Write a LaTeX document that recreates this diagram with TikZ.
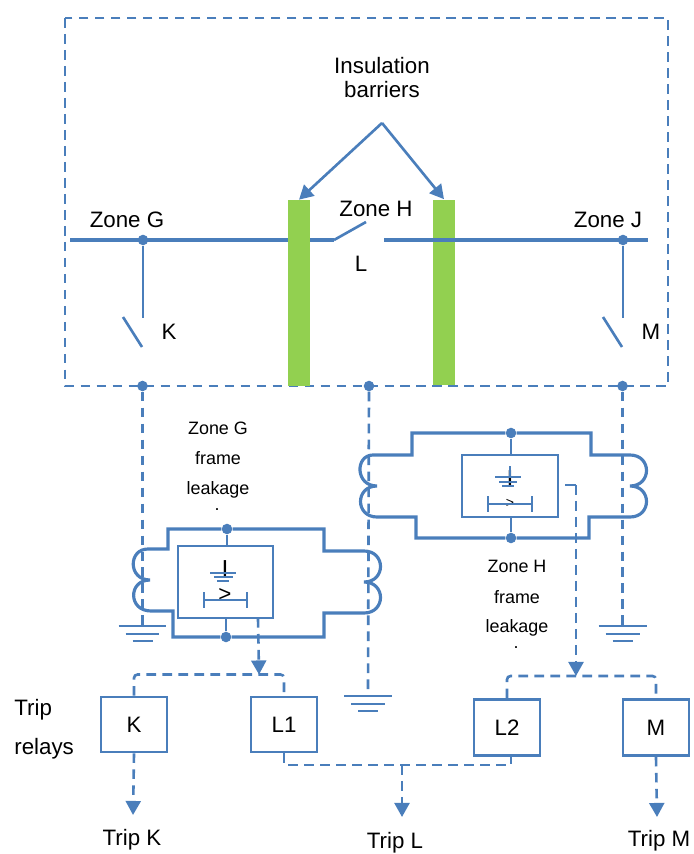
\documentclass[tikz,border=0pt]{standalone}
\usepackage{fontspec}
\setmainfont{Liberation Sans}
\usepackage{xcolor}
\usepackage{tikz}
\usetikzlibrary{arrows.meta}
\definecolor{wireblue}{HTML}{4A7EBB}
\definecolor{barriergreen}{HTML}{92D050}
\tikzset{
  wire/.style={draw=wireblue, line width=1.8pt},
  thinwire/.style={draw=wireblue, line width=1.5pt},
  dashwire/.style={draw=wireblue, line width=1.5pt, dash pattern=on 5.5pt off 3.6pt},
  tipped/.style={-{Triangle[length=8pt,width=8.5pt,fill=wireblue]}},
  dot/.style={circle, fill=wireblue, inner sep=0pt, minimum size=6pt},
  barrier/.style={fill=barriergreen, inner sep=0pt, minimum width=0.44cm, minimum height=3.72cm},
  relay/.style={draw=wireblue, line width=1.5pt, inner sep=0pt, minimum width=1.32cm, minimum height=1.1cm, font=\fontsize{12.7}{15}\selectfont},
  elem/.style={draw=wireblue, line width=1.5pt, inner sep=0pt},
  label/.style={inner sep=0pt, font=\fontsize{12.7}{15}\selectfont},
  small/.style={inner sep=0pt, font=\fontsize{10.2}{12}\selectfont}
}
\begin{document}
\begin{tikzpicture}[x=0.02cm, y=-0.02cm]
\useasboundingbox (0,0) rectangle (693,854);

% Zone boundary
\coordinate (Zone-NW) at (65,18);
\coordinate (Zone-SE) at (668,386);
\draw[dashwire] (Zone-NW) rectangle (Zone-SE);

% Bus left of the first barrier
\coordinate (Bus-W) at (70,240);
\coordinate (Bus-C) at (334,240);
\coordinate (Blade-L) at (366,222);
\coordinate (Bus-D) at (384,240);
\coordinate (Bus-E) at (648,240);
\draw[wire] (Bus-W) -- (Bus-C);
\draw[thinwire] (Bus-C) -- (Blade-L);

% Barriers
\node[barrier] (Barrier-1) at (299,293) {};
\node[barrier] (Barrier-2) at (444,292.5) {};
\draw[wire] (Bus-D) -- (Bus-E);

% Insulation label and arrows
\node[label] (Ins-1) at (382,66) {Insulation};
\node[label] (Ins-2) at (382,90) {barriers};
\coordinate (Apex) at (382,123);
\draw[thinwire, tipped] (Apex) -- (Barrier-1.north);
\draw[thinwire, tipped] (Apex) -- (Barrier-2.north);

% Zone labels
\node[label] (Zone-G) at (127,220) {Zone G};
\node[label] (Zone-H) at (376,209) {Zone H};
\node[label] (Zone-J) at (608,220) {Zone J};
\node[label] (Bkr-L) at (361,264) {L};
\node[label] (Bkr-K) at (169,332) {K};
\node[label] (Bkr-M) at (651,332) {M};

% Bus dots, breakers and boundary dots
\foreach \name/\x in {K/143, M/623}
{
  \node[dot] (Tap-\name) at (\x,240) {};
  \node[dot] (Cross-\name) at (\x-0.5,386) {};
  \coordinate (Open-\name) at (\x,318);
  \coordinate (Hinge-\name) at (\x-1,347);
  \coordinate (Blade-\name) at (\x-20,317);
  \coordinate (Earth-\name) at (\x-0.5,626);
  \draw[thinwire] (Tap-\name) -- (Open-\name);
  \draw[thinwire] (Blade-\name) -- (Hinge-\name);
  \draw[dashwire] (Cross-\name) -- (Earth-\name);
}
\node[dot] (Cross-L) at (369,386) {};
\coordinate (Earth-L) at (368,696);
\draw[dashwire] (Cross-L) -- (Earth-L);

% Earth symbols
\foreach \name in {K,M,L}
{
  \draw[thinwire] ([xshift=-0.48cm]Earth-\name) -- ([xshift=0.48cm]Earth-\name);
  \draw[thinwire] ([xshift=-0.34cm, yshift=-0.16cm]Earth-\name) -- ([xshift=0.34cm, yshift=-0.16cm]Earth-\name);
  \draw[thinwire] ([xshift=-0.2cm, yshift=-0.3cm]Earth-\name) -- ([xshift=0.2cm, yshift=-0.3cm]Earth-\name);
}

% Zone G frame leakage
\node[small] (LeakG-1) at (218,428) {Zone G};
\node[small] (LeakG-2) at (218,458) {frame};
\node[small] (LeakG-3) at (218,490) {leakage};
\node[small] (LeakG-4) at (217,510) {.};

\node[elem, minimum width=1.9cm, minimum height=1.44cm] (Prot-G) at (225.5,582) {};
\node[dot] (Top-G) at (227,529) {};
\node[dot] (Bot-G) at (226,637) {};
\draw[thinwire] (Top-G) -- (Top-G |- Prot-G.north);
\draw[thinwire] (Bot-G) -- (Bot-G |- Prot-G.south);

% Zone G CT secondary
\draw[wire] (148,549) -- (168,549) -- (168,529) -- (Top-G) -- (324,529) -- (324,551) -- (364,551)
  .. controls (386,551) and (386,582) .. (364,582)
  .. controls (386,582) and (386,613) .. (364,613)
  -- (324,613) -- (324,637) -- (Bot-G) -- (173,637) -- (173,611) -- (151,611)
  .. controls (128,611) and (128,580) .. (150,580)
  .. controls (128,580) and (128,549) .. (148,549);

% Zone G relay symbols
\node[label, font=\fontsize{14}{16}\selectfont] (SymI-G) at (225,569) {I};
\draw[thinwire] (210,573) -- (236,573);
\draw[thinwire] (214,577) -- (233,577);
\draw[thinwire] (217,581) -- (229,581);
\node[label] (SymGt-G) at (225,595) {>};
\draw[thinwire] (204,592) -- (204,608);
\draw[thinwire] (204,600) -- (247,600);
\draw[thinwire] (247,592) -- (247,608);

% Zone H frame leakage
\node[small] (LeakH-1) at (517,566) {Zone H};
\node[small] (LeakH-2) at (517,597) {frame};
\node[small] (LeakH-3) at (517,628) {leakage};
\node[small] (LeakH-4) at (516,648) {.};

\node[elem, minimum width=1.92cm, minimum height=1.24cm] (Prot-H) at (510,486) {};
\node[dot] (Top-H) at (511,433) {};
\node[dot] (Bot-H) at (511,538) {};
\draw[thinwire] (Top-H) -- (Top-H |- Prot-H.north);
\draw[thinwire] (Bot-H) -- (Bot-H |- Prot-H.south);

% Zone H CT secondary
\draw[wire] (373,455) -- (412,455) -- (412,433) -- (Top-H) -- (591,433) -- (591,455) -- (630,455)
  .. controls (652,455) and (652,486) .. (630,486)
  .. controls (652,486) and (652,517) .. (630,517)
  -- (589,517) -- (589,538) -- (Bot-H) -- (416,538) -- (416,517) -- (377,517)
  .. controls (355,517) and (355,486) .. (377,486)
  .. controls (355,486) and (355,455) .. (373,455);

% Zone H relay symbols
\node[label, font=\fontsize{14}{16}\selectfont] (SymI-H) at (510,479) {I};
\draw[thinwire] (510,466) -- (510,477);
\draw[thinwire] (495,477) -- (521,477);
\draw[thinwire] (499,482) -- (517,482);
\draw[thinwire] (502,486) -- (514,486);
\node[label, font=\fontsize{8}{9}\selectfont] (SymGt-H) at (510,503.5) {>};
\draw[thinwire] (488,496) -- (488,512);
\draw[thinwire] (488,504) -- (532,504);
\draw[thinwire] (532,496) -- (532,512);

% Relays
\node[relay] (Relay-K) at (134,724.5) {K};
\node[relay] (Relay-L1) at (284,724.5) {L1};
\node[relay, minimum height=1.12cm] (Relay-L2) at (507,727.5) {L2};
\node[relay, minimum height=1.12cm] (Relay-M) at (656,727.5) {M};

\node[label, anchor=west] (Side-1) at (14,710) {Trip};
\node[label, anchor=west] (Side-2) at (14,749) {relays};

% Trip supply
\coordinate (Out-G) at (258,618);
\coordinate (Feed-G) at (259,674.5);
\coordinate (Out-H) at (565,485);
\coordinate (Turn-H) at (576,485);
\coordinate (Feed-H) at (576,676);
\draw[dashwire, tipped] (Out-G) -- (Feed-G);
\draw[thinwire] (Out-H) -- (Turn-H);
\draw[dashwire, tipped] (Turn-H) -- (Feed-H);
\draw[dashwire, rounded corners=2pt] (Relay-K.north) |- (Feed-G) -| (Relay-L1.north);
\draw[dashwire, rounded corners=2pt] (Relay-L2.north) |- (Feed-H) -| (Relay-M.north);

% Trip outputs
\coordinate (Link) at (402,765);
\coordinate (Stub-L2) at (511,755.5);
\draw[dashwire] (Relay-L1.south) |- (Link) -| (Stub-L2);
\coordinate (Tip-K) at (133,815);
\coordinate (Tip-L) at (402,817);
\coordinate (Tip-M) at (657,817);
\draw[dashwire, tipped] (Relay-K.south) -- (Tip-K);
\draw[dashwire, tipped] (Link) -- (Tip-L);
\draw[dashwire, tipped] (Relay-M.south) -- (Tip-M);

\node[label] (Trip-K) at (132,840) {Trip K};
\node[label] (Trip-L) at (395,843) {Trip L};
\node[label] (Trip-M) at (659,841) {Trip M};

\end{tikzpicture}
\end{document}
